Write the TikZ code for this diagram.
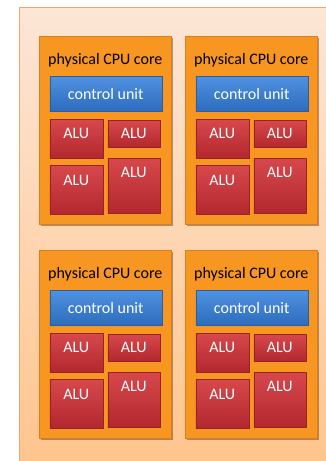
\documentclass[tikz,border=0pt]{standalone}
\usepackage{fontspec}
\setmainfont{Carlito}
\usetikzlibrary{shadows}
\definecolor{chiptop}{RGB}{252,230,214}
\definecolor{chipbot}{RGB}{255,196,140}
\definecolor{chipline}{RGB}{240,165,105}
\definecolor{coreorange}{RGB}{247,150,32}
\definecolor{coreline}{RGB}{222,125,30}
\definecolor{cutop}{RGB}{80,145,225}
\definecolor{cubot}{RGB}{45,108,190}
\definecolor{culine}{RGB}{40,95,165}
\definecolor{alutop}{RGB}{215,72,76}
\definecolor{alubot}{RGB}{178,40,46}
\definecolor{aluline}{RGB}{150,35,40}
\tikzset{
  chipbox/.style={draw=chipline, line width=0.8pt, top color=chiptop, bottom color=chipbot, anchor=north west, inner sep=0pt},
  corebox/.style={draw=coreline, line width=0.6pt, fill=coreorange, anchor=north west, inner sep=0pt, minimum width=132pt, minimum height=188pt,
    drop shadow={shadow xshift=1.5pt, shadow yshift=-1.5pt, opacity=0.45, fill=black!60!brown}},
  cubox/.style={draw=culine, line width=0.5pt, top color=cutop, bottom color=cubot, anchor=north west, inner sep=0pt,
    minimum width=112pt, minimum height=35pt, text=white, font=\fontsize{16}{18}\selectfont,
    drop shadow={shadow xshift=1pt, shadow yshift=-1pt, opacity=0.35}},
  alubox/.style={draw=aluline, line width=0.5pt, top color=alutop, bottom color=alubot, anchor=north west, inner sep=0pt,
    drop shadow={shadow xshift=1pt, shadow yshift=-1pt, opacity=0.35}},
  alulabel/.style={anchor=center, yshift=-14pt, text=white, font=\fontsize{16}{18}\selectfont, inner sep=0pt},
  corelabel/.style={anchor=center, yshift=-24pt, text=black, font=\fontsize{16}{18}\selectfont, inner sep=0pt}
}
\begin{document}
\begin{tikzpicture}[x=1pt,y=-1pt]
\useasboundingbox (0,0) rectangle (326,461);
\clip (0,0) rectangle (326,461);
\fill[white] (0,0) rectangle (326,461);
\node[chipbox, minimum width=320pt, minimum height=465pt] (chip) at (19,7) {};
\foreach \cx/\cy/\n in {39/36/a, 185/36/b, 39/250/c, 185/250/d}{
  \node[corebox, label={[corelabel]north:physical CPU core}] (core\n) at (\cx,\cy) {};
  \node[cubox] (cu\n) at (\cx+10.5,\cy+40) {control unit};
  \node[alubox, minimum width=53pt, minimum height=39pt, label={[alulabel]north:ALU}] (alu\n1) at (\cx+10.5,\cy+83) {};
  \node[alubox, minimum width=52pt, minimum height=27pt, label={[alulabel, yshift=1pt]north:ALU}] (alu\n2) at (\cx+68.5,\cy+84) {};
  \node[alubox, minimum width=53pt, minimum height=49pt, label={[alulabel, yshift=-1pt]north:ALU}] (alu\n3) at (\cx+10.5,\cy+129) {};
  \node[alubox, minimum width=52pt, minimum height=55pt, label={[alulabel]north:ALU}] (alu\n4) at (\cx+68.5,\cy+122) {};
}
\end{tikzpicture}
\end{document}
